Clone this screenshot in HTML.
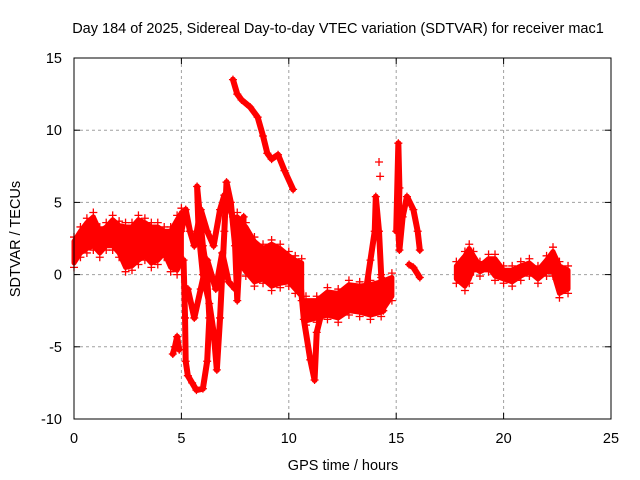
<!DOCTYPE html>
<html><head><meta charset="utf-8"><style>
body{margin:0;background:#fff}
svg{display:block;font-family:"Liberation Sans",sans-serif}
</style></head><body>
<svg id="chart" width="640" height="480">
<text x="338" y="33" font-size="14.5" text-anchor="middle">Day 184 of 2025, Sidereal Day-to-day VTEC variation (SDTVAR) for receiver mac1</text>
<text x="343" y="470" font-size="14.5" text-anchor="middle">GPS time / hours</text>
<text transform="translate(20,239) rotate(-90)" font-size="14.5" text-anchor="middle">SDTVAR / TECUs</text>
<g id="grid"></g><g id="marks"></g><g id="axes"></g>
</svg>
<script>
const xTicks=[0,5,10,15,20,25];
const yTicks=[-10,-5,0,5,10,15];
// band segments: time, lower, upper
const bandAt=[0,0.3,0.6,0.9,1.2,1.5,1.8,2.1,2.4,2.7,3.0,3.3,3.6,3.9,4.2,4.5,4.8,5.0];
const bandAlo=[0.8,1.5,1.8,2.0,1.5,2.0,2.0,1.5,0.5,0.6,1.0,1.3,0.8,1.0,1.5,0.5,0.3,1.0];
const bandAhi=[2.3,3.0,3.6,4.0,3.0,3.3,3.8,3.4,3.3,3.3,3.8,3.6,3.3,3.3,3.0,3.0,3.8,4.3];
const bandBt=[7.6,8.0,8.4,8.8,9.2,9.6,10.0,10.3,10.6];
const bandBlo=[1.0,0.2,-0.5,-0.3,-0.8,-0.6,-0.5,-1.0,-1.5];
const bandBhi=[4.0,3.3,2.3,1.8,2.1,1.8,1.3,1.0,0.8];
const bandCt=[10.8,11.3,11.8,12.3,12.8,13.3,13.8,14.3,14.8];
const bandClo=[-3.2,-3.0,-2.8,-3.0,-2.5,-2.6,-2.8,-2.6,-1.5];
const bandChi=[-1.8,-1.8,-1.2,-1.3,-0.7,-0.8,-0.7,-0.5,-0.2];
const bandHt=[17.8,18.2,18.4,18.6,18.9,19.3,19.6,20.0,20.4,20.8,21.2,21.6,22.0,22.3,22.6,23.0];
const bandHlo=[-0.3,-0.8,-0.3,0.5,0.2,0.5,-0.1,-0.3,-0.5,-0.1,0.2,-0.3,0.2,0.2,-1.3,-1.0];
const bandHhi=[0.6,1.3,1.8,1.3,0.6,1.1,1.1,0.3,0.3,0.6,0.8,0.3,1.0,1.6,0.6,0.3];
const bands=[[bandAt,bandAlo,bandAhi],[bandBt,bandBlo,bandBhi],[bandCt,bandClo,bandChi],[bandHt,bandHlo,bandHhi]];
// thin traces: [hour, value]
const traceB=[[4.6,-5.5],[4.7,-5],[4.8,-4.3],[4.9,-5.2]];
const traceC=[[5.1,1],[5.17,-3],[5.2,-6],[5.3,-7],[5.5,-7.5],[5.7,-8],[6.0,-7.9],[6.2,-6],[6.3,-3],[6.2,0],[6.0,2],[5.73,6.1],[5.8,3],[6.0,0],[6.3,-2],[6.5,-4],[6.65,-6.6],[6.8,-3],[6.9,0],[7.0,3],[7.1,6.4],[7.3,5],[7.5,2],[7.6,-1.8],[7.7,1],[7.9,4]];
const traceC2=[[5.0,3],[5.2,4.5],[5.4,3],[5.6,2],[5.9,4.5],[6.2,3],[6.5,2],[6.8,4.5],[7.0,5.5],[7.4,4],[7.8,3]];
const traceC3=[[5.3,-1],[5.6,-3],[5.9,-1],[6.2,1],[6.6,-1],[6.9,1.5],[7.2,-0.5],[7.5,-1]];
const traceC4=[[10.5,0.1],[10.7,-3.1],[11,-5.9],[11.2,-7.3],[11.3,-4],[11.6,-2.2]];
const traceD=[[13.6,-1],[13.8,1],[14.0,3],[14.05,5.4],[14.2,3],[14.3,0],[14.4,-2.5]];
const traceE=[[7.4,13.5],[7.6,12.5],[7.8,12.1],[8.2,11.6],[8.55,10.9],[8.8,9.6],[9,8.4],[9.2,8],[9.5,8.3],[9.8,7.2],[10.2,5.9]];
const traceF=[[15.0,3],[15.1,9.1],[15.15,6],[15.1,3],[15.15,1.7],[15.3,4],[15.5,5.4],[15.8,4.5],[16.0,3],[16.1,1.7]];
const traceG=[[15.6,0.7],[15.8,0.5],[16.1,-0.2]];
const isolated=[[14.2,7.8],[14.25,6.8]];
const traces=[traceB,traceC,traceC2,traceC3,traceC4,traceD,traceE,traceF,traceG];

const X0=74,X1=611,Y0=419,Y1=58;
const xs=t=>X0+(t-0)/(25-0)*(X1-X0);
const ys=v=>Y0-(v+10)/(15+10)*(Y0-Y1);
const NS="http://www.w3.org/2000/svg";
function mk(tag,attrs,parent){const e=document.createElementNS(NS,tag);for(const k in attrs)e.setAttribute(k,attrs[k]);parent.appendChild(e);return e;}
const grid=document.getElementById('grid'),marks=document.getElementById('marks'),axes=document.getElementById('axes');
xTicks.forEach(t=>{
  if(t>0&&t<25){const g=mk('line',{x1:xs(t),x2:xs(t),y1:Y1,y2:Y0,stroke:'#a0a0a0','stroke-dasharray':'3,3'},grid);
  
  }
  const l=mk('text',{x:xs(t),y:Y0+24,'font-size':'14.5','text-anchor':'middle'},axes);l.textContent=t;
  
  
  mk('line',{x1:xs(t),x2:xs(t),y1:Y0,y2:Y0-6,stroke:'#000'},axes);
  mk('line',{x1:xs(t),x2:xs(t),y1:Y1,y2:Y1+6,stroke:'#000'},axes);
});
yTicks.forEach(v=>{
  if(v>-10&&v<15){const g=mk('line',{x1:X0,x2:X1,y1:ys(v),y2:ys(v),stroke:'#a0a0a0','stroke-dasharray':'3,3'},grid);
  
  }
  const l=mk('text',{x:X0-12,y:ys(v)+5,'font-size':'14.5','text-anchor':'end'},axes);l.textContent=v;
  
  
  mk('line',{x1:X0,x2:X0+6,y1:ys(v),y2:ys(v),stroke:'#000'},axes);
  mk('line',{x1:X1,x2:X1-6,y1:ys(v),y2:ys(v),stroke:'#000'},axes);
});
const frame=mk('rect',{x:X0,y:Y1,width:X1-X0,height:Y0-Y1,fill:'none',stroke:'#000'},axes);


function plus(t,v,p){const x=xs(t),y=ys(v);
  mk('path',{d:`M${x-4},${y}H${x+4}M${x},${y-4}V${y+4}`,stroke:'#f00','stroke-width':1.3},p);}
bands.forEach(b=>{
  const [t,lo,hi]=b;
  const g=mk('g',{},marks);
  
  
  const pts=t.map((x,i)=>xs(x)+','+ys(hi[i])).concat(t.map((x,i)=>xs(x)+','+ys(lo[i])).reverse());
  mk('polygon',{points:pts.join(' '),fill:'#f00',stroke:'#f00','stroke-width':5,'stroke-linejoin':'round'},g);
  t.forEach((x,i)=>{plus(x,hi[i]+0.3,g);plus(x,lo[i]-0.3,g);});
});
traces.forEach(tr=>{
  const g=mk('g',{},marks);
  
  
  mk('polyline',{points:tr.map(p=>xs(p[0])+','+ys(p[1])).join(' '),fill:'none',stroke:'#f00','stroke-width':6,'stroke-linejoin':'round','stroke-linecap':'round'},g);
  tr.forEach(p=>plus(p[0],p[1],g));
});
isolated.forEach(p=>{const g=mk('g',{},marks);
  
  
  plus(p[0],p[1],g);});
</script>
</body></html>
